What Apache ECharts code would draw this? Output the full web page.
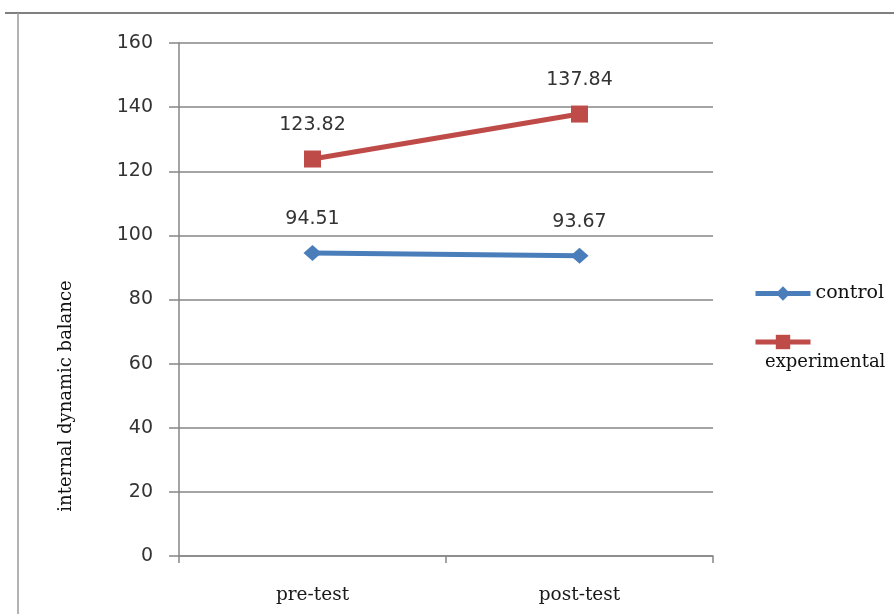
<!DOCTYPE html>
<html>
<head>
<meta charset="utf-8">
<script src="https://cdn.jsdelivr.net/npm/echarts@6/dist/echarts.min.js"></script>
<style>
  html, body { margin: 0; padding: 0; background: #fff; }
  #chart { width: 894px; height: 614px; }
</style>
</head>
<body>
<div id="chart"></div>
<script>
// Test phases on the x axis
const phases = ['pre-test', 'post-test'];
// Mean internal dynamic balance per group
const controlValues = [94.51, 93.67];
const experimentalValues = [123.82, 137.84];
// Y axis range
const yMin = 0;
const yMax = 160;
const yStep = 20;

const axisGray = '#868686';
const numFont = 'DejaVu Sans';
const serifFont = 'DejaVu Serif';

const chart = echarts.init(document.getElementById('chart'));

chart.setOption({
  backgroundColor: '#ffffff',
  animation: false,
  grid: { left: 179, right: 181, top: 43, bottom: 58, containLabel: false },
  xAxis: {
    type: 'category',
    data: phases,
    boundaryGap: true,
    axisLine: { lineStyle: { color: axisGray, width: 1.5 } },
    axisTick: { show: true, length: 7, alignWithLabel: false, lineStyle: { color: axisGray, width: 1.5 } },
    axisLabel: { color: '#1a1a1a', fontFamily: serifFont, fontSize: 18.5, margin: 30 }
  },
  yAxis: {
    type: 'value',
    min: yMin,
    max: yMax,
    interval: yStep,
    axisLine: { show: true, lineStyle: { color: axisGray, width: 1.5 } },
    axisTick: { show: true, length: 10, lineStyle: { color: axisGray, width: 1.5 } },
    axisLabel: { color: '#333', fontFamily: numFont, fontSize: 19, margin: 26 },
    splitLine: { show: true, lineStyle: { color: axisGray, width: 1.5 } }
  },
  legend: [
    {
      data: ['control'],
      left: 753,
      top: 284,
      padding: 0,
      itemWidth: 55,
      itemHeight: 18,
      lineStyle: { width: 5 },
      textStyle: { color: '#111', fontFamily: serifFont, fontSize: 19 }
    },
    {
      data: ['experimental'],
      left: 753,
      top: 333,
      padding: 0,
      itemWidth: 55,
      itemHeight: 18,
      lineStyle: { width: 5 },
      formatter: () => '',
      textStyle: { fontSize: 1 }
    }
  ],
  graphic: [
    // chart frame
    { type: 'line', shape: { x1: 5, y1: 13, x2: 894, y2: 13 }, style: { stroke: '#808080', lineWidth: 2 } },
    { type: 'line', shape: { x1: 18, y1: 13, x2: 18, y2: 614 }, style: { stroke: '#9a9a9a', lineWidth: 1.5 } },
    // wrapped legend caption
    {
      type: 'text', left: 765, top: 353,
      style: { text: 'experimental', fill: '#111', font: '18px "DejaVu Serif"' }
    },
    // y axis title
    {
      type: 'text',
      x: 66, y: 396,
      rotation: Math.PI / 2,
      style: {
        text: 'internal dynamic balance',
        fill: '#111',
        font: '18px "DejaVu Serif"',
        textAlign: 'center',
        textVerticalAlign: 'middle'
      }
    }
  ],
  series: [
    {
      name: 'control',
      type: 'line',
      data: controlValues,
      symbol: 'diamond',
      symbolSize: [18, 16],
      itemStyle: { color: '#4A7EBB' },
      lineStyle: { color: '#4A7EBB', width: 5 },
      label: {
        show: true, position: 'top', distance: 16,
        color: '#333', fontFamily: numFont, fontSize: 19
      }
    },
    {
      name: 'experimental',
      type: 'line',
      data: experimentalValues,
      symbol: 'rect',
      symbolSize: 17,
      itemStyle: { color: '#BE4B48' },
      lineStyle: { color: '#BE4B48', width: 5 },
      label: {
        show: true, position: 'top', distance: 16,
        color: '#333', fontFamily: numFont, fontSize: 19
      }
    }
  ]
});
</script>
</body>
</html>
